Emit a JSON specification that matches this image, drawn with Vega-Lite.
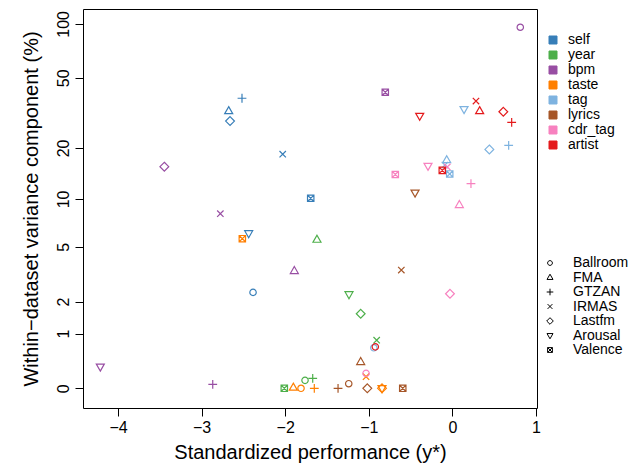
{
  "$schema": "https://vega.github.io/schema/vega-lite/v6.json",
  "width": 454,
  "height": 399,
  "autosize": {"type": "none"},
  "padding": {"left": 83, "top": 9, "right": 107, "bottom": 55},
  "background": "white",
  "config": {
    "font": "Liberation Sans",
    "view": {"stroke": "black", "strokeWidth": 1},
    "axis": {"grid": false, "domain": false, "tickColor": "black", "tickSize": 8, "tickWidth": 1, "labelColor": "black", "titleColor": "black", "labelFontSize": 16, "titleFontSize": 20, "titleFontWeight": "normal", "labelFont": "Liberation Sans", "titleFont": "Liberation Sans"},
    "legend": {"labelFontSize": 14, "labelFont": "Liberation Sans", "labelColor": "black", "labelLimit": 200}
  },
  "datasets": {
    "pts": [
      {"f": "self", "d": "Ballroom", "x": -2.385, "y": 2.37},
      {"f": "self", "d": "FMA", "x": -2.676, "y": 32.5},
      {"f": "self", "d": "GTZAN", "x": -2.517, "y": 38.4},
      {"f": "self", "d": "IRMAS", "x": -2.030, "y": 18.4},
      {"f": "self", "d": "Lastfm", "x": -2.660, "y": 28.5},
      {"f": "self", "d": "Arousal", "x": -2.437, "y": 6.12},
      {"f": "self", "d": "Valence", "x": -1.695, "y": 10.1},
      {"f": "year", "d": "Ballroom", "x": -1.763, "y": 0.106},
      {"f": "year", "d": "FMA", "x": -1.620, "y": 5.57},
      {"f": "year", "d": "GTZAN", "x": -1.671, "y": 0.135},
      {"f": "year", "d": "IRMAS", "x": -0.906, "y": 0.84},
      {"f": "year", "d": "Lastfm", "x": -1.097, "y": 1.57},
      {"f": "year", "d": "Arousal", "x": -1.237, "y": 2.29},
      {"f": "year", "d": "Valence", "x": -2.011, "y": 0},
      {"f": "bpm", "d": "Ballroom", "x": 0.812, "y": 95.8},
      {"f": "bpm", "d": "FMA", "x": -1.891, "y": 3.42},
      {"f": "bpm", "d": "GTZAN", "x": -2.867, "y": 0.052},
      {"f": "bpm", "d": "IRMAS", "x": -2.776, "y": 8.13},
      {"f": "bpm", "d": "Lastfm", "x": -3.446, "y": 15.56},
      {"f": "bpm", "d": "Arousal", "x": -4.212, "y": 0.315},
      {"f": "bpm", "d": "Valence", "x": -0.803, "y": 41.5},
      {"f": "taste", "d": "Ballroom", "x": -1.811, "y": 0},
      {"f": "taste", "d": "FMA", "x": -1.903, "y": 0.01},
      {"f": "taste", "d": "GTZAN", "x": -1.652, "y": 0},
      {"f": "taste", "d": "IRMAS", "x": -1.033, "y": 0.158},
      {"f": "taste", "d": "Lastfm", "x": -0.842, "y": 0},
      {"f": "taste", "d": "Arousal", "x": -0.842, "y": 0},
      {"f": "taste", "d": "Valence", "x": -2.513, "y": 5.65},
      {"f": "tag", "d": "Ballroom", "x": -0.94, "y": 0.67},
      {"f": "tag", "d": "FMA", "x": -0.068, "y": 17.0},
      {"f": "tag", "d": "GTZAN", "x": 0.673, "y": 20.7},
      {"f": "tag", "d": "IRMAS", "x": -0.09, "y": 15.9},
      {"f": "tag", "d": "Lastfm", "x": 0.442, "y": 19.6},
      {"f": "tag", "d": "Arousal", "x": 0.139, "y": 33.3},
      {"f": "tag", "d": "Valence", "x": -0.032, "y": 14.1},
      {"f": "lyrics", "d": "Ballroom", "x": -1.240, "y": 0.06},
      {"f": "lyrics", "d": "FMA", "x": -1.097, "y": 0.396},
      {"f": "lyrics", "d": "GTZAN", "x": -1.368, "y": 0},
      {"f": "lyrics", "d": "IRMAS", "x": -0.611, "y": 3.47},
      {"f": "lyrics", "d": "Lastfm", "x": -1.018, "y": 0},
      {"f": "lyrics", "d": "Arousal", "x": -0.447, "y": 10.9},
      {"f": "lyrics", "d": "Valence", "x": -0.594, "y": 0},
      {"f": "cdr_tag", "d": "Ballroom", "x": -1.033, "y": 0.209},
      {"f": "cdr_tag", "d": "FMA", "x": 0.083, "y": 9.2},
      {"f": "cdr_tag", "d": "GTZAN", "x": 0.222, "y": 12.35},
      {"f": "cdr_tag", "d": "IRMAS", "x": -0.061, "y": 15.5},
      {"f": "cdr_tag", "d": "Lastfm", "x": -0.029, "y": 2.31},
      {"f": "cdr_tag", "d": "Arousal", "x": -0.292, "y": 15.7},
      {"f": "cdr_tag", "d": "Valence", "x": -0.683, "y": 14.0},
      {"f": "artist", "d": "Ballroom", "x": -0.922, "y": 0.69},
      {"f": "artist", "d": "FMA", "x": 0.326, "y": 32.5},
      {"f": "artist", "d": "GTZAN", "x": 0.709, "y": 28.0},
      {"f": "artist", "d": "IRMAS", "x": 0.282, "y": 37.0},
      {"f": "artist", "d": "Lastfm", "x": 0.609, "y": 32.2},
      {"f": "artist", "d": "Arousal", "x": -0.391, "y": 30.5},
      {"f": "artist", "d": "Valence", "x": -0.121, "y": 14.8}
    ]
  },
  "encoding": {
    "x": {"field": "x", "type": "quantitative",
      "scale": {"domain": [-4.419, 1.012], "nice": false, "zero": false},
      "axis": {"values": [-4, -3, -2, -1, 0, 1], "format": "d", "title": "Standardized performance (y*)", "labelPadding": 3, "titlePadding": 7, "labelFlush": false}},
    "y": {"field": "y", "type": "quantitative",
      "scale": {"type": "symlog", "constant": 1, "domain": [-0.2834, 121], "nice": false, "zero": false},
      "axis": {"values": [0, 1, 2, 5, 10, 20, 50, 100], "title": "Within−dataset variance component (%)", "labelAngle": -90, "labelAlign": "center", "labelBaseline": "bottom", "labelPadding": 4, "titlePadding": 14, "labelFlush": false}}
  },
  "layer": [
    {
      "data": {"name": "pts"},
      "mark": {"type": "point", "filled": true, "size": 0, "shape": "square", "stroke": "black", "strokeWidth": 1, "opacity": 1},
      "encoding": {
        "fill": {"field": "f", "type": "nominal",
          "scale": {"domain": ["self", "year", "bpm", "taste", "tag", "lyrics", "cdr_tag", "artist"],
                    "range": ["#377EB8", "#4DAF4A", "#984EA3", "#FF7F00", "#7EB3E0", "#A65628", "#F781BF", "#E41A1C"]},
          "legend": {"orient": "none", "legendX": 463, "legendY": 24, "title": null, "symbolType": "square", "symbolSize": 64, "symbolStrokeColor": "black", "symbolStrokeWidth": 1, "symbolOpacity": 1, "labelOffset": 8, "rowPadding": 1, "padding": 0}}
      }
    },
    {
      "data": {"name": "pts"},
      "mark": {"type": "point", "filled": false, "size": 64, "strokeWidth": 1.2, "opacity": 1},
      "encoding": {
        "color": {"field": "f", "type": "nominal",
          "scale": {"domain": ["self", "year", "bpm", "taste", "tag", "lyrics", "cdr_tag", "artist"],
                    "range": ["#377EB8", "#4DAF4A", "#984EA3", "#FF7F00", "#7EB3E0", "#A65628", "#F781BF", "#E41A1C"]},
          "legend": null},
        "shape": {"field": "d", "type": "nominal",
          "scale": {"domain": ["Ballroom", "FMA", "GTZAN", "IRMAS", "Lastfm", "Arousal", "Valence"],
                    "range": [
                      "M0.8,0A0.8,0.8 0 1,1 -0.8,0A0.8,0.8 0 1,1 0.8,0Z",
                      "M0,-1.1L1,0.65L-1,0.65Z",
                      "M-1.1,0L1.1,0M0,-1.1L0,1.1",
                      "M-0.8,-0.8L0.8,0.8M-0.8,0.8L0.8,-0.8",
                      "M0,-1.1L1.1,0L0,1.1L-1.1,0Z",
                      "M0,1.1L1,-0.65L-1,-0.65Z",
                      "M-0.8,-0.8L0.8,-0.8L0.8,0.8L-0.8,0.8ZM-0.8,-0.8L0.8,0.8M-0.8,0.8L0.8,-0.8"
                    ]},
          "legend": {"orient": "none", "legendX": 460, "legendY": 247, "title": null, "symbolSize": 36, "symbolStrokeColor": "black", "symbolStrokeWidth": 1, "symbolFillColor": "transparent", "labelOffset": 16, "rowPadding": 0.5, "padding": 0}}
      }
    },
    {
      "data": {"values": [{}]},
      "mark": {"type": "rule", "color": "black", "strokeWidth": 1, "clip": false},
      "encoding": {"x": {"datum": 1.012}, "x2": {"datum": 3}, "y": {"datum": 121}}
    }
  ]
}
